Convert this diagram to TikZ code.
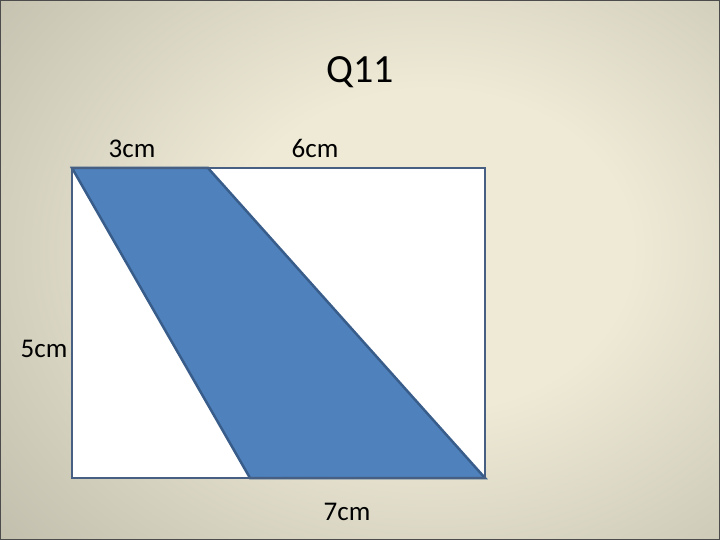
\documentclass[tikz,border=0pt]{standalone}
\usepackage{fontspec}
\setmainfont{Carlito}
\definecolor{bgin}{RGB}{238,234,214}
\definecolor{bgout}{RGB}{110,108,96}
\definecolor{shapefill}{RGB}{79,129,189}
\definecolor{shapeline}{RGB}{56,93,138}
\definecolor{rectline}{RGB}{70,95,130}
\pgfdeclareradialshading{bgshade}{\pgfpoint{0bp}{0bp}}{color(0bp)=(bgin); color(8bp)=(bgin); color(50bp)=(bgout)}
\tikzset{
  lbl/.style={font=\fontsize{27}{31}\selectfont, text=black, inner sep=0pt, anchor=base},
  ttl/.style={font=\fontsize{40}{46}\selectfont, text=black, inner sep=0pt, anchor=base},
}
\begin{document}
\begin{tikzpicture}[x=1pt,y=-1pt]
\useasboundingbox (0,0) rectangle (720,540);
\begin{scope}
\clip (0,0) rectangle (720,540);
\shade[shading=bgshade] (-200,-250) rectangle (1060,750);
\end{scope}
\draw[black!70, line width=1.2pt] (0.6,0.6) rectangle (719.4,539.4);
\node[ttl] (title) at (360,83) {Q11};
% rectangle
\coordinate (A) at (72,168);
\coordinate (B) at (485,168);
\coordinate (C) at (485,478);
\coordinate (D) at (72,478);
\coordinate (P) at (208,168);
\coordinate (Q) at (250,478);
\filldraw[fill=white, draw=rectline, line width=2.5pt] (A) -- (B) -- (C) -- (D) -- cycle;
\filldraw[fill=shapefill, draw=shapeline, line width=2.5pt, line join=miter] (A) -- (P) -- (C) -- (Q) -- cycle;
\draw[rectline, line width=2.5pt] (A) -- (B) -- (C) -- (D) -- cycle;
\node[lbl] (l3) at (132,158) {3cm};
\node[lbl] (l6) at (315,158) {6cm};
\node[lbl] (l5) at (44,357) {5cm};
\node[lbl] (l7) at (347,520) {7cm};
\end{tikzpicture}
\end{document}
